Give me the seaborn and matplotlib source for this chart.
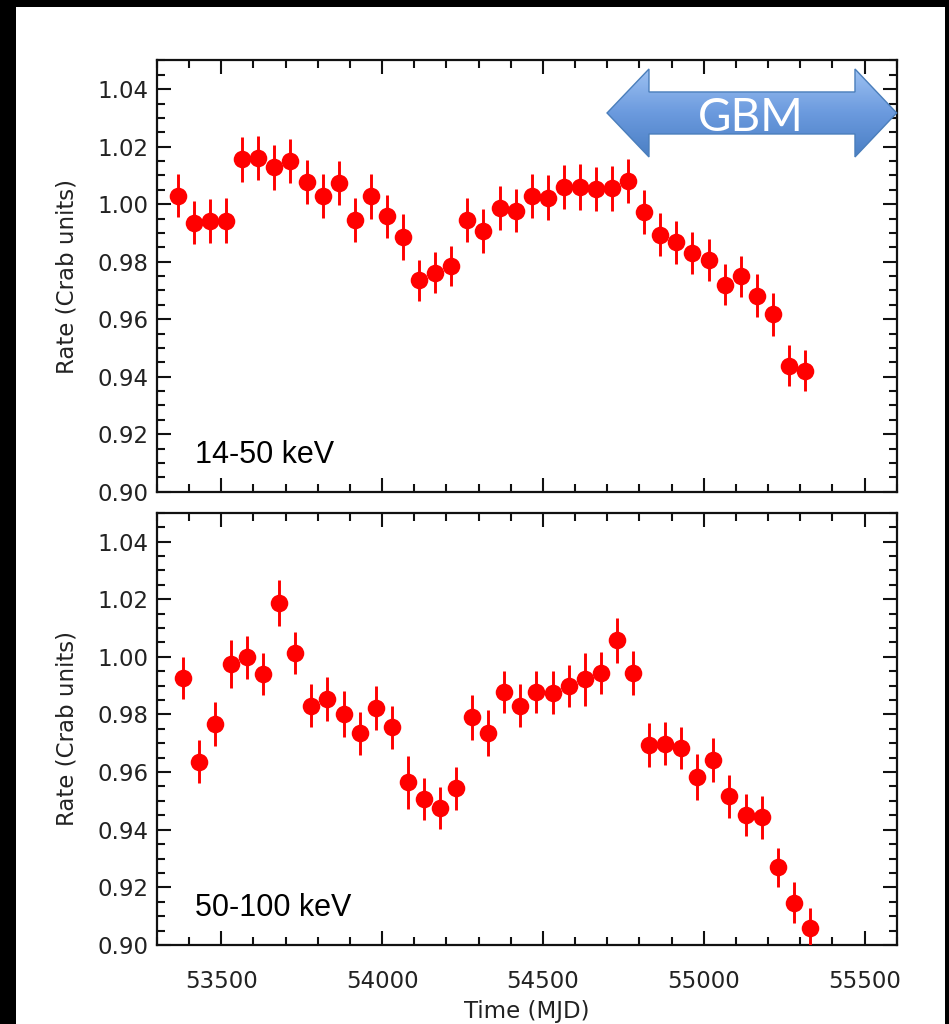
import numpy as np
import pandas as pd
import matplotlib
matplotlib.use("Agg")
import matplotlib.pyplot as plt
from matplotlib.patches import Polygon, Rectangle
from matplotlib.ticker import MultipleLocator, FixedLocator, FormatStrFormatter
import seaborn as sns

# ---- Crab light curves, 50-day bins ----------------------------------------
soft_band = "14-50 keV"
hard_band = "50-100 keV"

soft_mjd = [53365, 53415, 53465, 53515, 53565, 53615, 53665, 53715, 53765, 53815,
            53865, 53915, 53965, 54015, 54065, 54115, 54165, 54215, 54265, 54315,
            54365, 54415, 54465, 54515, 54565, 54615, 54665, 54715, 54765, 54815,
            54865, 54915, 54965, 55015, 55065, 55115, 55165, 55215, 55265, 55315]
soft_rate = [1.0030, 0.9936, 0.9942, 0.9943, 1.0156, 1.0160, 1.0128, 1.0151, 1.0077, 1.0028,
             1.0075, 0.9946, 1.0027, 0.9958, 0.9886, 0.9735, 0.9762, 0.9785, 0.9945, 0.9906,
             0.9987, 0.9978, 1.0028, 1.0023, 1.0060, 1.0060, 1.0053, 1.0055, 1.0081, 0.9972,
             0.9894, 0.9867, 0.9830, 0.9806, 0.9720, 0.9750, 0.9682, 0.9617, 0.9439, 0.9421]
soft_err = [0.0076, 0.0075, 0.0076, 0.0077, 0.0077, 0.0077, 0.0077, 0.0077, 0.0077, 0.0076,
            0.0077, 0.0076, 0.0077, 0.0075, 0.0079, 0.0071, 0.0071, 0.0071, 0.0076, 0.0076,
            0.0075, 0.0075, 0.0076, 0.0077, 0.0077, 0.0081, 0.0077, 0.0077, 0.0075, 0.0076,
            0.0075, 0.0075, 0.0073, 0.0073, 0.0072, 0.0071, 0.0074, 0.0074, 0.0071, 0.0072]

hard_mjd = [53380, 53430, 53480, 53530, 53580, 53630, 53680, 53730, 53780, 53830,
            53880, 53930, 53980, 54030, 54080, 54130, 54180, 54230, 54280, 54330,
            54380, 54430, 54480, 54530, 54580, 54630, 54680, 54730, 54780, 54830,
            54880, 54930, 54980, 55030, 55080, 55130, 55180, 55230, 55280, 55330]
hard_rate = [0.9928, 0.9636, 0.9767, 0.9974, 0.9998, 0.9941, 1.0187, 1.0013, 0.9831, 0.9853,
             0.9800, 0.9734, 0.9822, 0.9756, 0.9565, 0.9507, 0.9476, 0.9544, 0.9790, 0.9736,
             0.9878, 0.9831, 0.9879, 0.9875, 0.9899, 0.9922, 0.9945, 1.0057, 0.9944, 0.9694,
             0.9699, 0.9684, 0.9584, 0.9642, 0.9516, 0.9451, 0.9443, 0.9269, 0.9147, 0.9058]
hard_err = [0.0073, 0.0074, 0.0077, 0.0083, 0.0074, 0.0073, 0.0079, 0.0074, 0.0076, 0.0076,
            0.0080, 0.0076, 0.0076, 0.0075, 0.0092, 0.0073, 0.0072, 0.0074, 0.0078, 0.0080,
            0.0073, 0.0074, 0.0073, 0.0074, 0.0074, 0.0092, 0.0073, 0.0077, 0.0075, 0.0076,
            0.0076, 0.0074, 0.0080, 0.0075, 0.0074, 0.0074, 0.0074, 0.0068, 0.0070, 0.0070]

x_ticks = [53500, 54000, 54500, 55000, 55500]
y_ticks = [0.90, 0.92, 0.94, 0.96, 0.98, 1.00, 1.02, 1.04]
x_range = (53300, 55600)
y_range = (0.90, 1.05)

# ---- style -----------------------------------------------------------------
sns.set_theme(style="ticks")
plt.rcParams["font.family"] = ["DejaVu Sans"]
TXT = "#222222"
RED = "#ff0000"
FS = 16.5

fig = plt.figure(figsize=(9.49, 10.24), dpi=100, facecolor="black")
fig.patches.append(Rectangle((16 / 949, 0), (945 - 16) / 949, (1024 - 7) / 1024,
                             transform=fig.transFigure, facecolor="white",
                             edgecolor="none", zorder=-10))

ax_top = fig.add_axes([0.16544, 0.51982, 0.77945, 0.42110])
ax_bot = fig.add_axes([0.16544, 0.07715, 0.77945, 0.42217])


def draw_panel(ax, mjd, rate, err, band):
    df = pd.DataFrame({"mjd": mjd, "rate": rate, "err": err})
    ax.errorbar(df["mjd"], df["rate"], yerr=df["err"], fmt="none",
                ecolor=RED, elinewidth=2.1, capsize=0, zorder=3)
    sns.scatterplot(data=df, x="mjd", y="rate", ax=ax, color=RED, s=160,
                    linewidth=0, legend=False, zorder=4)
    ax.set_xlim(*x_range)
    ax.set_ylim(*y_range)
    ax.xaxis.set_major_locator(FixedLocator(x_ticks))
    ax.xaxis.set_minor_locator(MultipleLocator(100))
    ax.yaxis.set_major_locator(FixedLocator(y_ticks))
    ax.yaxis.set_minor_locator(MultipleLocator(0.005))
    ax.yaxis.set_major_formatter(FormatStrFormatter("%.2f"))
    ax.tick_params(which="both", direction="in", top=True, right=True,
                   color="#111111", width=1.5, labelcolor=TXT, labelsize=FS)
    ax.tick_params(which="major", length=10)
    ax.tick_params(which="minor", length=5.5)
    ax.tick_params(axis="y", pad=6)
    ax.tick_params(axis="x", pad=18)
    for sp in ax.spines.values():
        sp.set_visible(True)
        sp.set_color("#111111")
        sp.set_linewidth(1.6)
    ax.set_xlabel("")
    ax.set_ylabel("Rate (Crab units)", fontsize=FS, color=TXT, labelpad=14)
    ax.text(0.052, 0.066, band, transform=ax.transAxes, ha="left", va="baseline",
            fontsize=22, family="Liberation Sans", color="black", zorder=6)


draw_panel(ax_top, soft_mjd, soft_rate, soft_err, soft_band)
draw_panel(ax_bot, hard_mjd, hard_rate, hard_err, hard_band)

ax_top.tick_params(axis="x", labelbottom=False)
ax_bot.set_xlabel("Time (MJD)", fontsize=FS, color=TXT, labelpad=5)

# ---- GBM coverage arrow (axes-fraction coordinates) ------------------------
xl, xhl, xhr, xr = 0.6084, 0.6651, 0.9436, 1.0
yc, ys_top, ys_bot, yh_top, yh_bot = 0.8783, 0.9270, 0.8296, 0.9803, 0.7763
verts = [(xl, yc), (xhl, yh_top), (xhl, ys_top), (xhr, ys_top), (xhr, yh_top),
         (xr, yc), (xhr, yh_bot), (xhr, ys_bot), (xhl, ys_bot), (xhl, yh_bot)]
arrow = Polygon(verts, closed=True, transform=ax_top.transAxes, facecolor="none",
                edgecolor="#4a7ebb", linewidth=1.0, zorder=6, clip_on=False)
ax_top.add_patch(arrow)

grad = np.linspace(1, 0, 256).reshape(-1, 1)
blues = matplotlib.colors.LinearSegmentedColormap.from_list(
    "gbm", ["#4a7fc4", "#6b9ade", "#9dc1f2"])
im = ax_top.imshow(grad, cmap=blues, extent=(xl, xr, yh_bot, yh_top),
                   transform=ax_top.transAxes, aspect="auto",
                   interpolation="bilinear", zorder=5)
im.set_clip_path(arrow)
ax_top.set_xlim(*x_range)
ax_top.set_ylim(*y_range)

ax_top.text(0.803, 0.8372, "GBM", transform=ax_top.transAxes, ha="center",
            va="baseline", color="white", fontsize=33, family="Lato", zorder=7)

fig.savefig("out.png", dpi=100, facecolor=fig.get_facecolor())
